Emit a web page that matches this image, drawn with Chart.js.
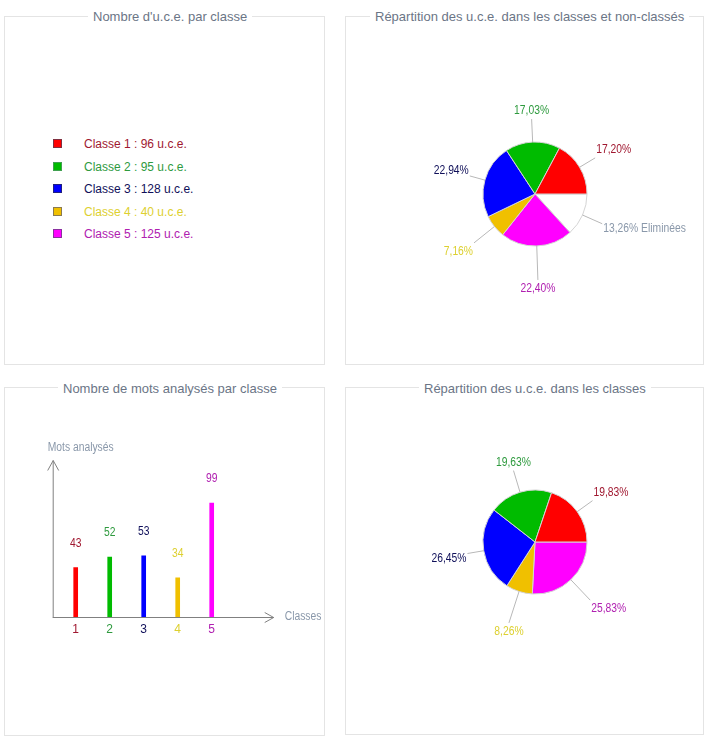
<!DOCTYPE html>
<html>
<head>
<meta charset="utf-8">
<script src="https://cdn.jsdelivr.net/npm/chart.js@4/dist/chart.umd.min.js"></script>
<style>
    body { margin: 0; background: #fff; width: 706px; height: 736px; position: relative; overflow: hidden;
           font-family: "Liberation Sans", Arial, sans-serif; }
    .panel { position: absolute; border: 1px solid #e4e4e4; box-sizing: border-box; }
    .title { position: absolute; background: #fff; padding: 0 5px; font-size: 13px; line-height: 16px;
             color: #6b7586; white-space: nowrap; }
    canvas { position: absolute; }
    .leg-row { position: absolute; left: 53px; height: 14px; font-size: 12px; line-height: 14px; white-space: nowrap; }
    .leg-box { position: absolute; left: 0; top: 2px; width: 9px; height: 9px; box-sizing: border-box; border: 1px solid; }
    .leg-txt { position: absolute; left: 31px; top: 0; }
</style>
</head>
<body>

<div class="panel" style="left:4px;top:16px;width:321px;height:349px"></div>
<div class="panel" style="left:345px;top:16px;width:359px;height:349px"></div>
<div class="panel" style="left:4px;top:387px;width:321px;height:349px"></div>
<div class="panel" style="left:345px;top:387px;width:359px;height:348px"></div>

<div class="title" style="left:88px;top:9px">Nombre d'u.c.e. par classe</div>
<div class="title" style="left:370px;top:9px">Répartition des u.c.e. dans les classes et non-classés</div>
<div class="title" style="left:58px;top:381px">Nombre de mots analysés par classe</div>
<div class="title" style="left:419px;top:381px">Répartition des u.c.e. dans les classes</div>

<div id="legend"></div>

<canvas id="pieAll" width="340" height="320" style="left:365px;top:34px"></canvas>
<canvas id="barMots" width="340" height="300" style="left:4px;top:400px"></canvas>
<canvas id="pieClasses" width="340" height="320" style="left:365px;top:382px"></canvas>

<script>
// --- data ---
const classes = ['Classe 1', 'Classe 2', 'Classe 3', 'Classe 4', 'Classe 5'];
const uceCounts = [96, 95, 128, 40, 125];
const uceEliminated = 74;
const motsAnalyses = [43, 52, 53, 34, 99];
const barTicks = ['1', '2', '3', '4', '5'];
const pctWithElim = ['17,20%', '17,03%', '22,94%', '7,16%', '22,40%'];
const pctElim = '13,26% Eliminées';
const pctClasses = ['19,83%', '19,63%', '26,45%', '8,26%', '25,83%'];

// colours
const fillColors = ['#ff0000', '#00bb00', '#0000ff', '#f0c000', '#ff00ff'];
const boxBorders = ['#803040', '#40a050', '#202080', '#8a7a50', '#8a30a0'];
const textColors = ['#a01830', '#2e9a3e', '#10105a', '#ddd030', '#b020b0'];
const elimText = '#8a98aa';

const fontFam = '"Liberation Sans", Arial, sans-serif';
Chart.defaults.font.family = fontFam;
Chart.defaults.animation = false;

// the original uses a narrow face; squeeze the canvas text a little
function narrowText(ctx, text, x, y) {
    ctx.save();
    ctx.translate(x, y);
    ctx.scale(0.86, 1);
    ctx.fillText(text, 0, 0);
    ctx.restore();
}

// legend panel
const legend = document.getElementById('legend');
const rowTops = [137, 160, 182, 205, 227];
classes.forEach((c, i) => {
    const row = document.createElement('div');
    row.className = 'leg-row';
    row.style.top = rowTops[i] + 'px';
    row.innerHTML = `<span class="leg-box" style="background:${fillColors[i]};border-color:${boxBorders[i]}"></span>` +
        `<span class="leg-txt" style="color:${textColors[i]}">${c} : ${uceCounts[i]} u.c.e.</span>`;
    legend.appendChild(row);
});

// labels outside the pie with a small leader line
const outerLabels = {
    id: 'outerLabels',
    afterDatasetsDraw(chart, args, opts) {
        const ctx = chart.ctx;
        const meta = chart.getDatasetMeta(0);
        ctx.save();
        ctx.font = '12px ' + fontFam;
        meta.data.forEach((arc, i) => {
            const p = arc.getProps(['x', 'y', 'startAngle', 'endAngle', 'outerRadius']);
            const mid = (p.startAngle + p.endAngle) / 2;
            const cos = Math.cos(mid), sin = Math.sin(mid);
            // lines below the pie are a bit longer in the original
            const len = 13 + 10 * Math.abs(sin) + (sin > 0 ? 11 * sin : 0);
            const r1 = p.outerRadius + len;
            ctx.strokeStyle = '#b8b8b8';
            ctx.lineWidth = 1;
            ctx.beginPath();
            ctx.moveTo(p.x + cos * p.outerRadius, p.y + sin * p.outerRadius);
            ctx.lineTo(p.x + cos * r1, p.y + sin * r1);
            ctx.stroke();
            let tx = p.x + cos * r1, ty = p.y + sin * r1;
            ctx.textAlign = cos > 0.5 ? 'left' : (cos < -0.5 ? 'right' : 'center');
            if (sin < -0.5) { ctx.textBaseline = 'bottom'; ty -= 2; }
            else if (sin > 0.5) { ctx.textBaseline = 'top'; ty += 3; }
            else { ctx.textBaseline = 'middle'; ty += 5 * Math.sign(sin); }
            if (ctx.textAlign === 'left') tx += 1;
            if (ctx.textAlign === 'right') tx -= 1;
            ctx.fillStyle = opts.colors[i];
            narrowText(ctx, chart.data.labels[i], tx, ty);
        });
        ctx.restore();
    }
};

function makePie(id, values, labels, colors, txtColors) {
    // drawn clockwise from 3 o'clock, so reverse to get class 1 first counter-clockwise
    new Chart(document.getElementById(id), {
        type: 'pie',
        data: {
            labels: labels.slice().reverse(),
            datasets: [{
                data: values.slice().reverse(),
                backgroundColor: colors.slice().reverse(),
                borderColor: '#d4d4d4',
                borderWidth: 1
            }]
        },
        options: {
            responsive: false,
            rotation: 90,
            radius: 52,
            plugins: {
                legend: { display: false },
                tooltip: { enabled: false },
                outerLabels: { colors: txtColors.slice().reverse() }
            }
        },
        plugins: [outerLabels]
    });
}

makePie('pieAll',
    uceCounts.concat([uceEliminated]),
    pctWithElim.concat([pctElim]),
    fillColors.concat(['#ffffff']),
    textColors.concat([elimText]));

makePie('pieClasses', uceCounts, pctClasses, fillColors, textColors);

// axes with arrows + value labels for the bar chart
const arrowAxes = {
    id: 'arrowAxes',
    afterDatasetsDraw(chart) {
        const ctx = chart.ctx;
        const area = chart.chartArea;
        const x0 = area.left - 6;
        const y0 = chart.scales.y.getPixelForValue(0);
        const yTop = area.top - 1;
        const xEnd = area.right + 45;
        ctx.save();
        ctx.strokeStyle = '#808080';
        ctx.lineWidth = 1;
        ctx.beginPath();
        ctx.moveTo(x0 + 0.5, y0 + 0.5); ctx.lineTo(x0 + 0.5, yTop);
        ctx.moveTo(x0 - 5, yTop + 10); ctx.lineTo(x0 + 0.5, yTop); ctx.lineTo(x0 + 6, yTop + 10);
        ctx.moveTo(x0, y0 + 0.5); ctx.lineTo(xEnd, y0 + 0.5);
        ctx.moveTo(xEnd - 9, y0 - 4.5); ctx.lineTo(xEnd, y0 + 0.5); ctx.lineTo(xEnd - 9, y0 + 5.5);
        ctx.stroke();

        ctx.font = '12px ' + fontFam;
        ctx.fillStyle = '#8a98aa';
        ctx.textBaseline = 'middle';
        ctx.textAlign = 'left';
        narrowText(ctx, 'Mots analysés', x0 - 5, yTop - 13);
        narrowText(ctx, 'Classes', xEnd + 11, y0);

        ctx.textAlign = 'center';
        chart.getDatasetMeta(0).data.forEach((bar, i) => {
            ctx.fillStyle = textColors[i];
            narrowText(ctx, String(motsAnalyses[i]), bar.x, bar.y - 24);
        });
        ctx.restore();
    }
};

new Chart(document.getElementById('barMots'), {
    type: 'bar',
    data: {
        labels: barTicks,
        datasets: [{
            data: motsAnalyses,
            backgroundColor: fillColors,
            barThickness: 4
        }]
    },
    options: {
        responsive: false,
        layout: { padding: { left: 54.7, right: 115.3, top: 61.5, bottom: 58.6 } },
        scales: {
            x: {
                grid: { display: false, drawTicks: false },
                border: { display: false },
                ticks: {
                    padding: 5,
                    font: { size: 12 },
                    color: ctx => textColors[ctx.index]
                }
            },
            y: { display: false, min: 0, max: 135 }
        },
        plugins: {
            legend: { display: false },
            tooltip: { enabled: false }
        }
    },
    plugins: [arrowAxes]
});
</script>
</body>
</html>
